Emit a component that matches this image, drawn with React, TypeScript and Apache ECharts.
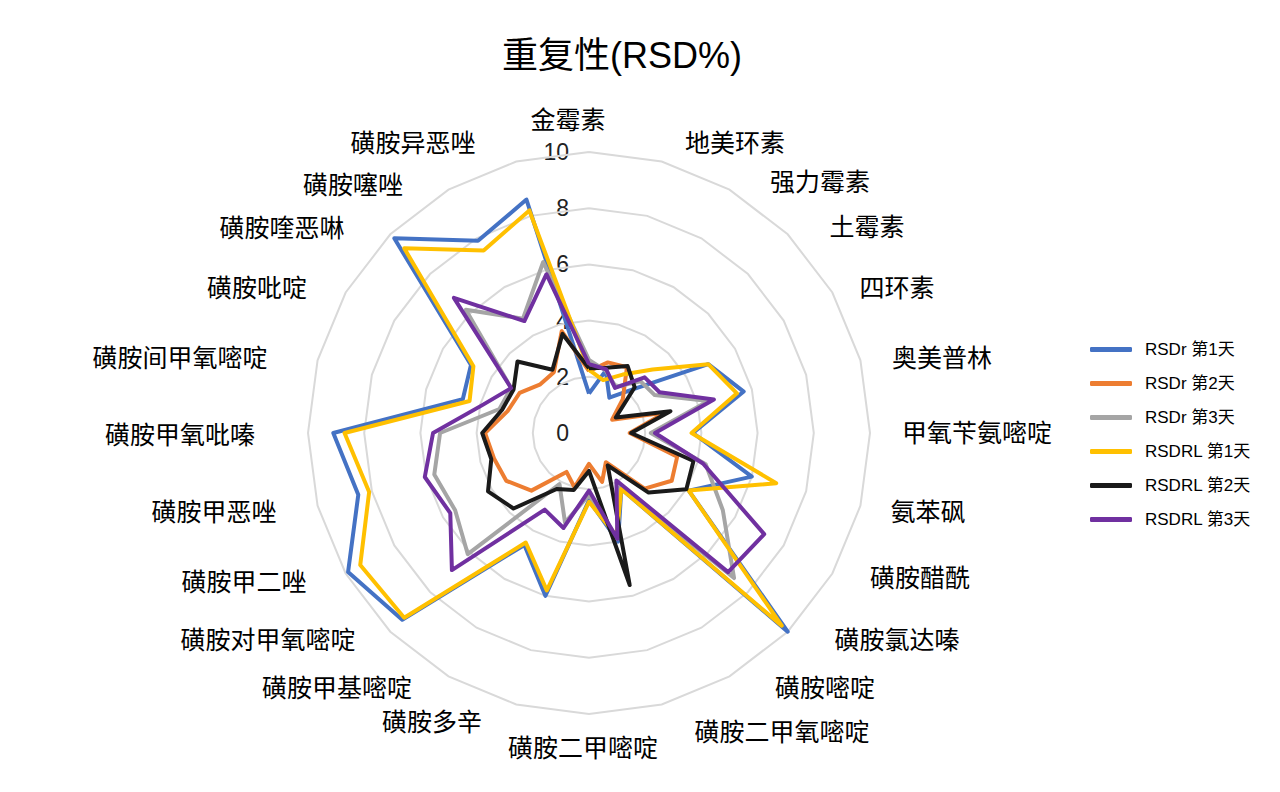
import React, { useEffect, useRef } from "react";
import * as echarts from "echarts";

// Categories, clockwise from the top
const categories = [
  "金霉素", "地美环素", "强力霉素", "土霉素", "四环素", "奥美普林",
  "甲氧苄氨嘧啶", "氨苯砜", "磺胺醋酰", "磺胺氯达嗪", "磺胺嘧啶", "磺胺二甲氧嘧啶",
  "磺胺二甲嘧啶", "磺胺多辛", "磺胺甲基嘧啶", "磺胺对甲氧嘧啶", "磺胺甲二唑", "磺胺甲恶唑",
  "磺胺甲氧吡嗪", "磺胺间甲氧嘧啶", "磺胺吡啶", "磺胺喹恶啉", "磺胺噻唑", "磺胺异恶唑",
];

const seriesNames = ["RSDr 第1天", "RSDr 第2天", "RSDr 第3天", "RSDRL 第1天", "RSDRL 第2天", "RSDRL 第3天"];

const rsdrDay1 = [1.4, 2.3, 1.45, 2.2, 4.9, 5.7, 3.7, 6.0, 4.1, 10.0, 2.3, 4.0, 2.4, 6.0, 4.6, 9.4, 9.9, 8.5, 9.1, 4.65, 4.85, 9.8, 7.9, 8.6];
const rsdrDay2 = [2.2, 2.6, 2.7, 1.7, 0.95, 2.8, 1.45, 3.25, 3.4, 2.8, 1.2, 1.8, 1.1, 2.0, 1.6, 2.9, 3.4, 3.5, 3.7, 3.0, 2.85, 2.45, 2.5, 3.75];
const rsdrDay3 = [2.6, 2.3, 1.9, 2.6, 2.7, 4.4, 2.2, 4.3, 5.5, 7.3, 2.2, 3.9, 2.2, 3.3, 2.1, 6.1, 5.5, 5.7, 5.3, 3.3, 3.2, 6.2, 4.7, 6.3];
const rsdrlDay1 = [2.25, 1.95, 2.4, 3.2, 4.9, 5.45, 3.65, 6.9, 4.1, 9.7, 2.3, 3.8, 2.45, 5.8, 4.5, 9.3, 9.4, 8.1, 8.7, 4.4, 4.75, 9.3, 7.5, 8.2];
const rsdrlDay2 = [2.3, 2.4, 2.75, 2.3, 1.1, 3.0, 1.5, 3.85, 4.0, 3.0, 1.33, 5.6, 1.35, 2.1, 2.3, 3.8, 4.15, 3.6, 3.8, 3.2, 3.1, 3.6, 2.6, 3.65];
const rsdrlDay3 = [2.45, 2.35, 1.85, 2.8, 2.9, 4.6, 2.35, 4.2, 7.2, 7.0, 1.95, 3.9, 2.05, 3.5, 3.15, 6.9, 5.7, 6.05, 5.55, 3.9, 3.2, 6.8, 4.6, 5.85];

const valueTicks = [0, 2, 4, 6, 8, 10];

const colors = ["#4472C4", "#ED7D31", "#A5A5A5", "#FFC000", "#1A1A1A", "#7030A0"];

// layout: label centres (px) for the category names
const labelPos: [number, number][] = [
  [568, 120], [735, 143], [820, 182], [867, 227], [897, 288], [942, 358],
  [977, 433], [928, 512], [920, 578], [897, 640], [825, 688], [782, 732],
  [583, 748], [432, 722], [337, 688], [268, 640], [244, 582], [214, 512],
  [180, 435], [180, 358], [257, 288], [282, 228], [353, 185], [413, 143],
];

const CX = 589;
const CY = 433;
const R = 281;
const FONT = "'Liberation Sans', 'Noto Sans CJK SC', sans-serif";

// ECharts radar runs counter-clockwise; reorder to draw clockwise
const cw = <T,>(arr: T[]): T[] => [arr[0], ...arr.slice(1).reverse()];

export default function App() {
  const ref = useRef<HTMLDivElement>(null);

  useEffect(() => {
    if (!ref.current) return;
    const chart = echarts.init(ref.current, null, { renderer: "svg" });
    const allData = [rsdrDay1, rsdrDay2, rsdrDay3, rsdrlDay1, rsdrlDay2, rsdrlDay3];
    const maxV = valueTicks[valueTicks.length - 1];

    const graphics: any[] = [];
    categories.forEach((name, i) => {
      graphics.push({
        type: "text",
        x: labelPos[i][0],
        y: labelPos[i][1],
        silent: true,
        style: {
          text: name,
          font: `25px ${FONT}`,
          fill: "#000",
          align: "center",
          verticalAlign: "middle",
          textAlign: "center",
          textVerticalAlign: "middle",
        },
      });
    });
    valueTicks.forEach((v) => {
      graphics.push({
        type: "text",
        x: 569,
        y: CY - (v / maxV) * R,
        silent: true,
        style: {
          text: String(v),
          font: `23px ${FONT}`,
          fill: "#222",
          align: "right",
          verticalAlign: "middle",
          textAlign: "right",
          textVerticalAlign: "middle",
        },
      });
    });

    chart.setOption({
      animation: false,
      backgroundColor: "#fff",
      title: {
        text: "重复性(RSD%)",
        left: 617,
        top: 32,
        textAlign: "center",
        textStyle: { fontSize: 36, fontWeight: "normal", color: "#000", fontFamily: FONT },
      },
      legend: {
        orient: "vertical",
        left: 1085,
        top: 336,
        itemWidth: 42,
        itemHeight: 5,
        itemGap: 17,
        icon: "roundRect",
        data: seriesNames,
        textStyle: { fontSize: 17, color: "#000", fontFamily: FONT, padding: [0, 0, 0, 8] },
      },
      radar: {
        center: [CX, CY],
        radius: R,
        startAngle: 90,
        splitNumber: 5,
        shape: "polygon",
        indicator: cw(categories).map((name) => ({ name, min: 0, max: maxV })),
        axisName: { show: false },
        axisLine: { show: false },
        axisTick: { show: false },
        axisLabel: { show: false },
        splitArea: { show: false },
        splitLine: { lineStyle: { color: "#D9D9D9", width: 2 } },
      },
      series: seriesNames.map((name, i) => ({
        type: "radar",
        name,
        symbol: "none",
        z: 2 + i,
        lineStyle: { color: colors[i], width: 4 },
        itemStyle: { color: colors[i] },
        data: [{ name, value: cw(allData[i]) }],
      })),
      graphic: graphics,
    });

    return () => chart.dispose();
  }, []);

  return (
    <div
      ref={ref}
      style={{ position: "fixed", left: 0, top: 0, width: 1280, height: 792, background: "#fff" }}
    />
  );
}
